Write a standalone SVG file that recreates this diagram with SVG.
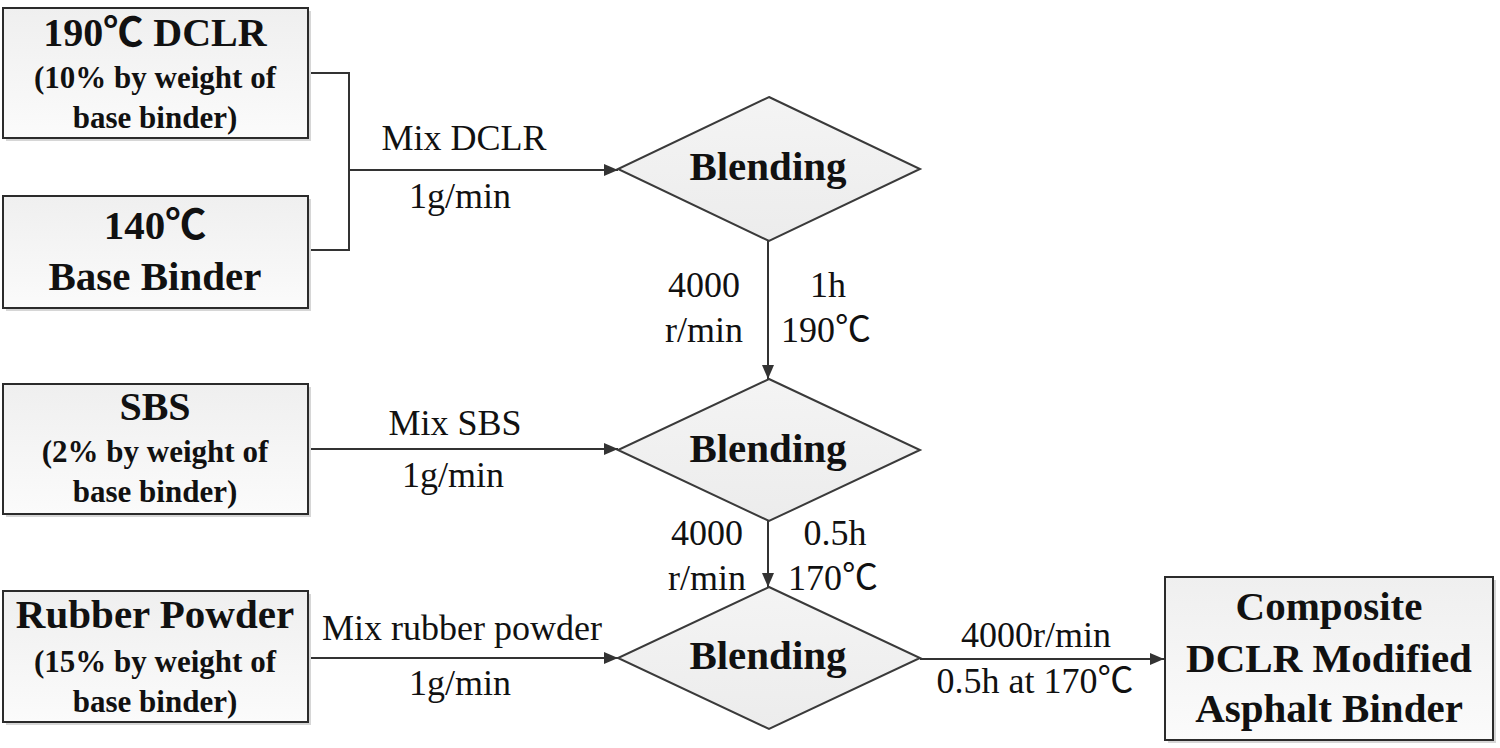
<svg xmlns="http://www.w3.org/2000/svg" width="1500" height="748" viewBox="0 0 1500 748">
<style>
.box{fill:url(#g);stroke:#2b2b2b;stroke-width:2}
.sh{fill:#d6d6d6}
.dia{fill:url(#g2);stroke:#3a3a3a;stroke-width:2}
.ln{fill:none;stroke:#333;stroke-width:2}
text{font-family:"Liberation Serif","Noto Sans CJK SC",serif;fill:#111;text-anchor:middle}
.t{font-size:40px;font-weight:bold}
.s{font-size:31px;font-weight:bold}
.b{font-size:41px;font-weight:bold}
.l{font-size:36px}
</style>
<defs>
<linearGradient id="g" x1="0" y1="0" x2="0" y2="1"><stop offset="0" stop-color="#efefef"/><stop offset="1" stop-color="#fbfbfb"/></linearGradient>
<linearGradient id="g2" x1="0" y1="0" x2="0" y2="1"><stop offset="0" stop-color="#f4f4f4"/><stop offset="1" stop-color="#ececec"/></linearGradient>
<marker id="a" markerWidth="14" markerHeight="12" refX="14" refY="6" orient="auto" markerUnits="userSpaceOnUse"><path d="M0,0 L14,6 L0,12 Z" fill="#333"/></marker>
</defs>
<g id="connectors">
<polyline class="ln" points="308,73 349,73 349,250 308,250"/>
<line class="ln" x1="349" y1="170" x2="618" y2="170" marker-end="url(#a)"/>
<line class="ln" x1="308" y1="449" x2="618" y2="449" marker-end="url(#a)"/>
<line class="ln" x1="308" y1="658" x2="618" y2="658" marker-end="url(#a)"/>
<line class="ln" x1="768" y1="241" x2="768" y2="379" marker-end="url(#a)"/>
<line class="ln" x1="768" y1="521" x2="768" y2="587" marker-end="url(#a)"/>
<line class="ln" x1="920" y1="659" x2="1164" y2="659" marker-end="url(#a)"/>
<text class="l" x="464" y="150">Mix DCLR</text>
<text class="l" x="460" y="208">1g/min</text>
<text class="l" x="455" y="435">Mix SBS</text>
<text class="l" x="453" y="487">1g/min</text>
<text class="l" x="462" y="640">Mix rubber powder</text>
<text class="l" x="460" y="695">1g/min</text>
<text class="l" x="704" y="297">4000</text>
<text class="l" x="704" y="342">r/min</text>
<text class="l" x="828" y="297">1h</text>
<text class="l" x="826" y="342">190℃</text>
<text class="l" x="707" y="545">4000</text>
<text class="l" x="707" y="590">r/min</text>
<text class="l" x="835" y="545">0.5h</text>
<text class="l" x="833" y="590">170℃</text>
<text class="l" x="1036" y="647">4000r/min</text>
<text class="l" x="1035" y="693">0.5h at 170℃</text>
</g>
<g id="dclr">
<rect class="sh" x="6" y="11" width="305" height="130"/>
<rect class="box" x="3" y="8" width="305" height="130"/>
<text class="t" x="155" y="46">190℃ DCLR</text>
<text class="s" x="155" y="88">(10% by weight of</text>
<text class="s" x="155" y="128">base binder)</text>
</g>
<g id="base">
<rect class="sh" x="6" y="199" width="305" height="112"/>
<rect class="box" x="3" y="196" width="305" height="112"/>
<text class="b" x="155" y="239">140℃</text>
<text class="b" x="155" y="290">Base Binder</text>
</g>
<g id="sbs">
<rect class="sh" x="6" y="387" width="305" height="130"/>
<rect class="box" x="3" y="384" width="305" height="130"/>
<text class="t" x="155" y="420">SBS</text>
<text class="s" x="155" y="462">(2% by weight of</text>
<text class="s" x="155" y="502">base binder)</text>
</g>
<g id="rubber">
<rect class="sh" x="6" y="594" width="305" height="131"/>
<rect class="box" x="3" y="591" width="305" height="131"/>
<text class="b" x="155" y="628">Rubber Powder</text>
<text class="s" x="155" y="672">(15% by weight of</text>
<text class="s" x="155" y="712">base binder)</text>
</g>
<g id="blend1">
<polygon class="dia" points="769,97 920,169 769,241 618,169"/>
<text class="b" x="768" y="180">Blending</text>
</g>
<g id="blend2">
<polygon class="dia" points="769,379 920,450 769,521 618,450"/>
<text class="b" x="768" y="462">Blending</text>
</g>
<g id="blend3">
<polygon class="dia" points="769,587 920,658 769,729 618,658"/>
<text class="b" x="768" y="669">Blending</text>
</g>
<g id="composite">
<rect class="sh" x="1168" y="580" width="328" height="163"/>
<rect class="box" x="1165" y="577" width="328" height="163"/>
<text class="b" x="1329" y="620">Composite</text>
<text class="b" x="1329" y="672">DCLR Modified</text>
<text class="b" x="1329" y="722">Asphalt Binder</text>
</g>
</svg>
